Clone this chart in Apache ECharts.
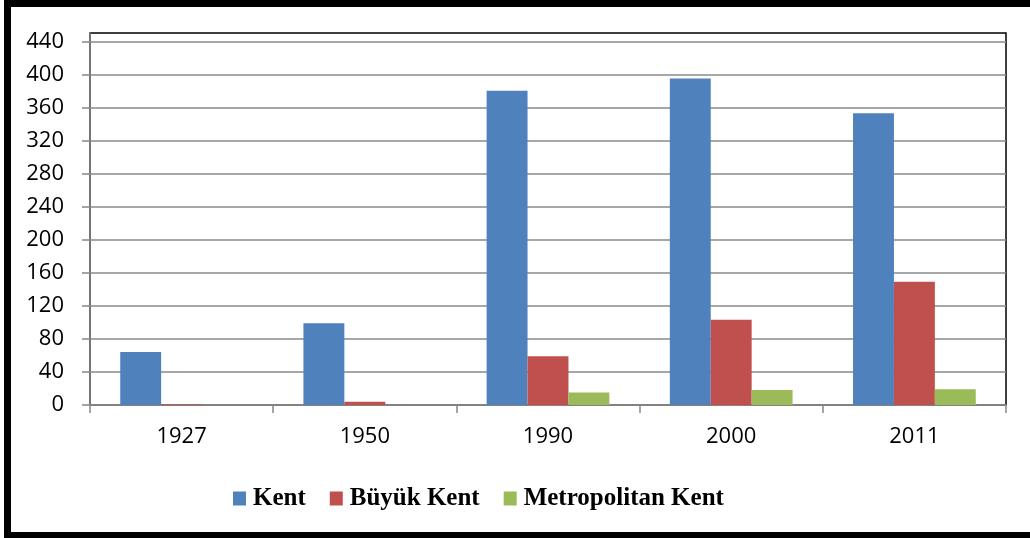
<!DOCTYPE html>
<html>
<head>
<meta charset="utf-8">
<script src="https://cdn.jsdelivr.net/npm/echarts@6/dist/echarts.min.js"></script>
<style>
  html, body { margin: 0; padding: 0; background: #fff; overflow: hidden; }
  #frame { position: absolute; left: 4px; top: 0; width: 1100px; height: 525px;
           border: 7px solid #000; border-bottom-width: 6px; box-sizing: content-box; }
  #chart { position: absolute; left: 0; top: 0; width: 1030px; height: 538px; }
</style>
</head>
<body>
<div id="frame"></div>
<div id="chart"></div>
<script>
const categories = ['1927', '1950', '1990', '2000', '2011'];
const kent = [64, 99, 380, 395, 353];
const buyukKent = [1, 4, 59, 103, 149];
const metropolitanKent = [0, 0, 15, 18, 19];
const seriesNames = ['Kent', 'Büyük Kent', 'Metropolitan Kent'];
const colors = ['#4F81BD', '#C0504D', '#9BBB59'];

const chart = echarts.init(document.getElementById('chart'), null, { renderer: 'canvas' });
const axisFont = { fontFamily: 'Open Sans', fontSize: 22, color: '#000' };

chart.setOption({
  animation: false,
  color: colors,
  grid: { left: 90, right: 24, top: 33, bottom: 133, show: true, borderColor: '#000', borderWidth: 1.5, backgroundColor: 'transparent' },
  legend: {
    left: 228, top: 481,
    itemWidth: 13, itemHeight: 14, itemGap: 24,
    icon: 'rect',
    textStyle: { fontFamily: 'Liberation Serif', fontWeight: 'bold', fontSize: 25, color: '#000', padding: [0, 0, 0, 2] },
    data: seriesNames
  },
  xAxis: {
    type: 'category',
    data: categories,
    axisLine: { lineStyle: { color: '#868686', width: 1.5 } },
    axisTick: { show: true, length: 8, lineStyle: { color: '#868686', width: 1.5 } },
    axisLabel: Object.assign({ margin: 21 }, axisFont),
    splitLine: { show: false }
  },
  yAxis: {
    type: 'value',
    min: 0, max: 450, interval: 40,
    axisLine: { show: true, lineStyle: { color: '#868686', width: 1.5 } },
    axisTick: { show: true, length: 8, lineStyle: { color: '#868686', width: 1.5 } },
    axisLabel: Object.assign({ margin: 26, showMaxLabel: false }, axisFont),
    splitLine: { show: true, showMaxLine: false, lineStyle: { color: '#8a8a8a', width: 1.5 } }
  },
  series: [
    { name: seriesNames[0], type: 'bar', data: kent, barGap: '0%', barCategoryGap: '33%' },
    { name: seriesNames[1], type: 'bar', data: buyukKent, barGap: '0%', barCategoryGap: '33%' },
    { name: seriesNames[2], type: 'bar', data: metropolitanKent, barGap: '0%', barCategoryGap: '33%' }
  ]
});
</script>
</body>
</html>
